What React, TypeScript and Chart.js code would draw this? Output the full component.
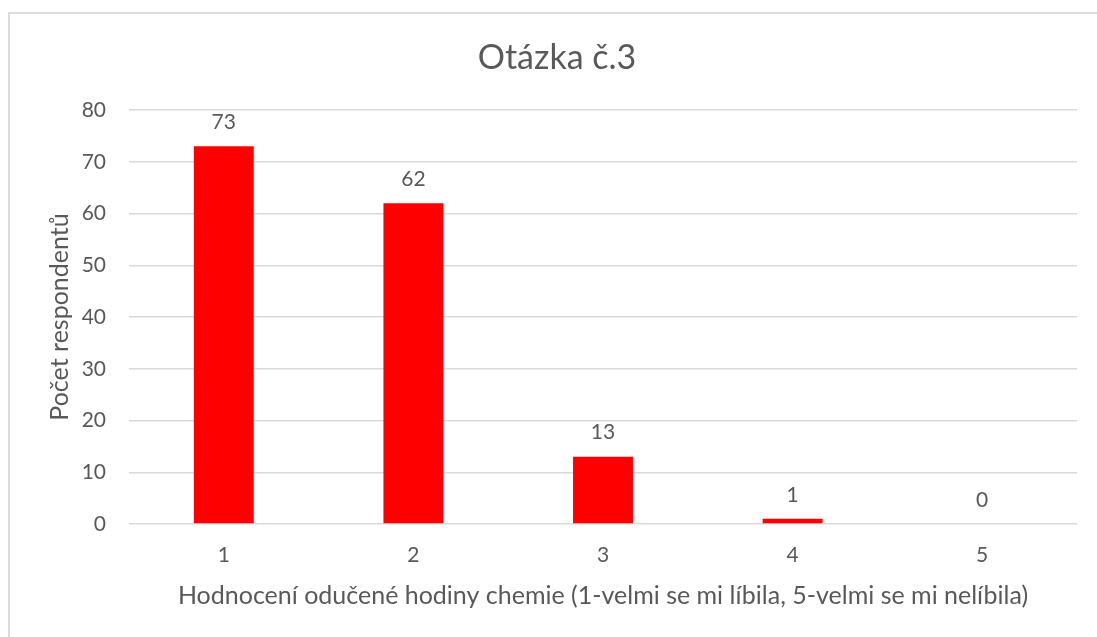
import React, { useEffect, useRef } from "react";
import { Chart, registerables } from "chart.js";

Chart.register(...registerables);

const categories = ["1", "2", "3", "4", "5"];
const respondents = [73, 62, 13, 1, 0];
const yTicks = [0, 10, 20, 30, 40, 50, 60, 70, 80];
const chartTitle = "Otázka č.3";
const yTitle = "Počet respondentů";
const xTitle = "Hodnocení odučené hodiny chemie (1-velmi se mi líbila, 5-velmi se mi nelíbila)";

const FONT = "Lato, 'Open Sans', sans-serif";
const TEXT = "#595959";
const GRID = "#d9d9d9";

const decorPlugin = {
  id: "decor",
  beforeDraw(chart: any) {
    const { ctx, width, height } = chart;
    ctx.save();
    ctx.fillStyle = "#ffffff";
    ctx.fillRect(0, 0, width, height);
    ctx.strokeStyle = "#dcdcdc";
    ctx.lineWidth = 2;
    ctx.beginPath();
    ctx.moveTo(9, height);
    ctx.lineTo(9, 13);
    ctx.lineTo(width, 13);
    ctx.stroke();
    ctx.restore();
  },
  afterDraw(chart: any) {
    const { ctx, chartArea } = chart;
    ctx.save();
    ctx.fillStyle = TEXT;
    ctx.font = `34px ${FONT}`;
    ctx.textAlign = "center";
    ctx.textBaseline = "middle";
    ctx.fillText(chartTitle, (chartArea.left + chartArea.right) / 2 - 46, 58);
    ctx.restore();
  },
};

const labelsPlugin = {
  id: "valueLabels",
  afterDatasetsDraw(chart: any) {
    const { ctx } = chart;
    const meta = chart.getDatasetMeta(0);
    ctx.save();
    ctx.fillStyle = TEXT;
    ctx.font = `21px ${FONT}`;
    ctx.textAlign = "center";
    ctx.textBaseline = "middle";
    meta.data.forEach((bar: any, i: number) => {
      ctx.fillText(String(respondents[i]), bar.x, bar.y - 24);
    });
    ctx.restore();
  },
};

export default function App() {
  const ref = useRef<HTMLCanvasElement | null>(null);
  useEffect(() => {
    if (!ref.current) return;
    const chart = new Chart(ref.current, {
      type: "bar",
      data: {
        labels: categories,
        datasets: [
          {
            data: respondents,
            backgroundColor: "#ff0000",
            borderWidth: 0,
            categoryPercentage: 1,
            barPercentage: 0.316,
          },
        ],
      },
      options: {
        animation: false,
        responsive: false,
        maintainAspectRatio: false,
        layout: { padding: { left: 0, right: 20, top: 110, bottom: 0 } },
        plugins: {
          legend: { display: false },
          title: { display: false },
          tooltip: { enabled: false },
        },
        scales: {
          x: {
            grid: { display: false, drawTicks: false },
            border: { display: false },
            ticks: { color: TEXT, font: { family: FONT, size: 21 }, padding: 19 },
            title: {
              display: true,
              text: xTitle,
              color: TEXT,
              font: { family: FONT, size: 25 },
              padding: { top: 0, bottom: 26 },
            },
            afterFit: (s: any) => {
              s.height = 113;
            },
          },
          y: {
            min: 0,
            max: 80,
            afterBuildTicks: (s: any) => {
              s.ticks = yTicks.map((v) => ({ value: v }));
            },
            grid: { color: GRID, lineWidth: 1.5, drawTicks: false },
            border: { display: false },
            ticks: { color: TEXT, font: { family: FONT, size: 21 }, padding: 23 },
            title: {
              display: true,
              text: yTitle,
              color: TEXT,
              font: { family: FONT, size: 25 },
              padding: { top: 45, bottom: 0 },
            },
            afterFit: (s: any) => {
              s.width = 129;
            },
          },
        },
      },
      plugins: [decorPlugin, labelsPlugin],
    });
    return () => chart.destroy();
  }, []);
  return (
    <div style={{ position: "fixed", left: 0, top: 0, width: 1097, height: 637, overflow: "hidden", background: "#fff" }}>
      <canvas ref={ref} width={1097} height={637} style={{ display: "block", width: 1097, height: 637 }} />
    </div>
  );
}
